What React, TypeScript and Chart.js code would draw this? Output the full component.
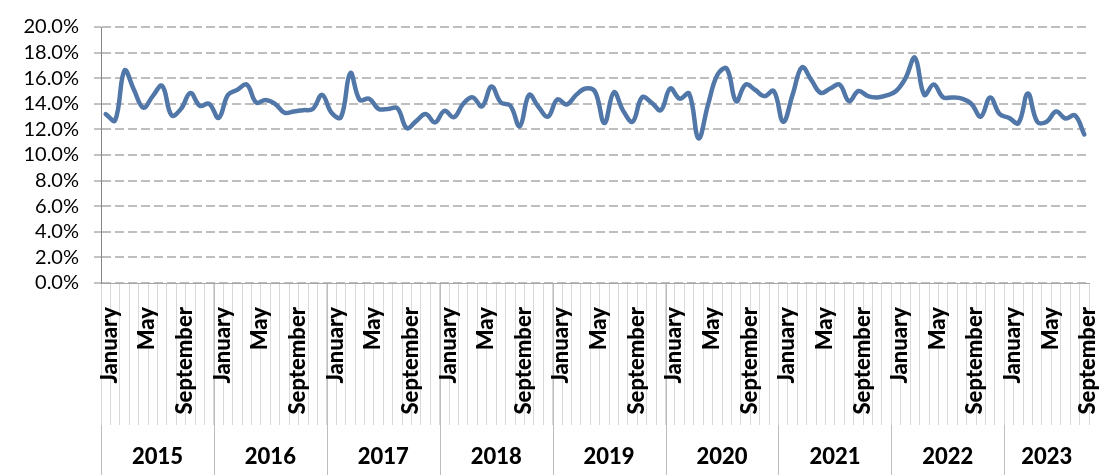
import React, { useEffect, useRef } from 'react';
import { Chart, registerables } from 'chart.js';

Chart.register(...registerables);

const monthNames = ['January', 'February', 'March', 'April', 'May', 'June', 'July', 'August', 'September', 'October', 'November', 'December'];
const years = ['2015', '2016', '2017', '2018', '2019', '2020', '2021', '2022', '2023'];

const rate2015 = [13.2, 12.7, 16.6, 15.1, 13.7, 14.6, 15.4, 13.1, 13.6, 14.85, 13.85, 14.0];
const rate2016 = [12.9, 14.7, 15.1, 15.5, 14.1, 14.3, 14.0, 13.3, 13.4, 13.5, 13.6, 14.7];
const rate2017 = [13.3, 12.95, 16.4, 14.3, 14.4, 13.6, 13.6, 13.65, 12.1, 12.65, 13.2, 12.55];
const rate2018 = [13.45, 12.95, 14.0, 14.5, 13.8, 15.35, 14.1, 13.85, 12.25, 14.7, 13.75, 13.0];
const rate2019 = [14.35, 13.95, 14.7, 15.2, 14.95, 12.5, 14.9, 13.45, 12.6, 14.5, 14.1, 13.5];
const rate2020 = [15.2, 14.4, 14.8, 11.3, 13.9, 16.25, 16.75, 14.2, 15.5, 15.1, 14.6, 15.0];
const rate2021 = [12.6, 14.7, 16.85, 15.85, 14.85, 15.2, 15.5, 14.2, 15.0, 14.6, 14.5, 14.65];
const rate2022 = [15.0, 16.0, 17.6, 14.7, 15.5, 14.5, 14.5, 14.4, 14.0, 13.0, 14.5, 13.2];
const rate2023 = [12.9, 12.5, 14.8, 12.6, 12.6, 13.4, 12.85, 13.1, 11.6];

const yearlyRates = [rate2015, rate2016, rate2017, rate2018, rate2019, rate2020, rate2021, rate2022, rate2023];
const yTicks = [0, 2, 4, 6, 8, 10, 12, 14, 16, 18, 20];

const FONT = 'Lato';
const HEAVY = 900;

export default function App() {
  const canvasRef = useRef<HTMLCanvasElement | null>(null);

  useEffect(() => {
    const labels: string[] = [];
    const values: number[] = [];
    yearlyRates.forEach((arr) => {
      arr.forEach((v, mi) => {
        labels.push(monthNames[mi]);
        values.push(v);
      });
    });
    const n = labels.length;

    const yearPlugin = {
      id: 'yearGroups',
      beforeDraw(chart: any) {
        const { ctx, chartArea } = chart;
        const xs = chart.scales.x;
        const step = (chartArea.right - chartArea.left) / n;
        ctx.save();
        ctx.strokeStyle = '#BDBDBD';
        ctx.lineWidth = 1;
        let start = 0;
        years.forEach((_y, yi) => {
          const count = yearlyRates[yi].length;
          const x0 = xs.getPixelForValue(start) - step / 2;
          const lx = Math.round(x0) + 0.5;
          ctx.beginPath();
          ctx.moveTo(lx, chartArea.bottom);
          ctx.lineTo(lx, 475);
          ctx.stroke();
          start += count;
        });
        ctx.restore();
      },
      afterDraw(chart: any) {
        const { ctx, chartArea } = chart;
        const xs = chart.scales.x;
        const step = (chartArea.right - chartArea.left) / n;
        ctx.save();
        ctx.fillStyle = '#000';
        ctx.font = `${HEAVY} 22px ${FONT}`;
        ctx.textAlign = 'center';
        ctx.textBaseline = 'middle';
        let start = 0;
        years.forEach((y, yi) => {
          const count = yearlyRates[yi].length;
          const x0 = xs.getPixelForValue(start) - step / 2;
          const x1 = xs.getPixelForValue(start + count - 1) + step / 2;
          ctx.fillText(y, (x0 + x1) / 2, 457);
          start += count;
        });
        ctx.restore();
      },
    };

    const chart = new Chart(canvasRef.current as HTMLCanvasElement, {
      type: 'line',
      data: {
        labels,
        datasets: [
          {
            data: values,
            borderColor: '#5077A8',
            borderWidth: 4.5,
            pointRadius: 0,
            tension: 0.4,
            fill: false,
            borderCapStyle: 'round',
            borderJoinStyle: 'round',
          },
        ],
      },
      options: {
        animation: false,
        responsive: true,
        maintainAspectRatio: false,
        layout: { padding: { top: 18, right: 10, left: 0, bottom: 0 } },
        plugins: { legend: { display: false }, tooltip: { enabled: false } },
        scales: {
          x: {
            type: 'category',
            offset: true,
            grid: {
              offset: true,
              drawOnChartArea: false,
              drawTicks: true,
              tickLength: 142,
              color: '#D9D9D9',
              tickColor: '#D9D9D9',
              lineWidth: 1,
            },
            border: { display: true, color: '#A6A6A6', width: 1 },
            ticks: {
              autoSkip: false,
              maxRotation: 90,
              minRotation: 90,
              padding: -118,
              labelOffset: 4,
              color: '#000',
              font: { family: FONT, size: 22, weight: HEAVY },
              callback: (_v: any, i: number) => (i % 4 === 0 ? labels[i] : ''),
            },
            afterFit: (scale: any) => {
              scale.height = 192;
              scale.paddingLeft = 0;
              scale.paddingRight = 0;
            },
          },
          y: {
            min: 0,
            max: 20,
            afterBuildTicks: (scale: any) => {
              scale.ticks = yTicks.map((v) => ({ value: v }));
            },
            grid: {
              color: '#BEBEBE',
              lineWidth: 2,
              drawTicks: true,
              tickLength: 7,
              tickColor: '#868686',
              tickWidth: 1,
              tickBorderDash: [],
            },
            border: { display: true, color: '#868686', width: 1, dash: [9, 4] },
            ticks: {
              autoSkip: false,
              padding: 15,
              color: '#000',
              font: { family: FONT, size: 20 },
              callback: (v: any) => Number(v).toFixed(1) + '%',
            },
            afterFit: (scale: any) => {
              scale.width = 101;
            },
          },
        },
      },
      plugins: [yearPlugin],
    } as any);

    return () => chart.destroy();
  }, []);

  return (
    <div style={{ position: 'absolute', left: 0, top: 0, width: 1099, height: 475, background: '#fff' }}>
      <canvas ref={canvasRef} />
    </div>
  );
}
